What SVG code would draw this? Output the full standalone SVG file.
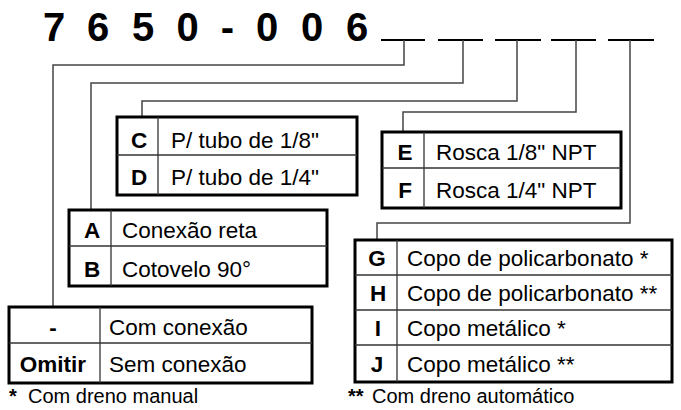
<svg xmlns="http://www.w3.org/2000/svg" width="681" height="410" viewBox="0 0 681 410">
<style>
.t{font-family:"Liberation Sans",Arial,sans-serif;font-size:22.5px;fill:#000}
.b{font-weight:bold}
.m{text-anchor:middle}
.f{font-family:"Liberation Sans",Arial,sans-serif;font-size:20px;fill:#000}
.box{fill:#fff;stroke:#000;stroke-width:3}
.in{stroke:#333;stroke-width:1.3;fill:none}
.con{stroke:#444;stroke-width:1.5;fill:none}
.ul{stroke:#000;stroke-width:2.2}
</style>
<rect width="681" height="410" fill="#fff"/>
<g id="title">
<text class="t b m" style="font-size:40px" y="41" x="54 76 98 120 143 165 187.5 207 227.5 247 267 290 312 335 357">7 6 5 0 - 0 0 6</text>
<line class="ul" x1="381" y1="40" x2="425" y2="40"/>
<line class="ul" x1="438" y1="40" x2="483" y2="40"/>
<line class="ul" x1="495" y1="40" x2="541" y2="40"/>
<line class="ul" x1="551" y1="40" x2="596" y2="40"/>
<line class="ul" x1="608" y1="40" x2="654" y2="40"/>
</g>
<g id="connectors">
<polyline class="con" points="404,40 404,65 53,65 53,307"/>
<polyline class="con" points="463,40 463,83 91,83 91,210"/>
<polyline class="con" points="517,40 517,101 142,101 142,117"/>
<polyline class="con" points="576,40 576,112 403,112 403,132"/>
<polyline class="con" points="630,40 630,223 377,223 377,240"/>
</g>
<g id="box-cd">
<rect class="box" x="117" y="117" width="240" height="78"/>
<line class="in" x1="158" y1="117" x2="158" y2="195"/>
<line class="in" x1="117" y1="155" x2="357" y2="155"/>
<text class="t b m" x="139" y="148">C</text>
<text class="t" x="171" y="148">P/ tubo de 1/8"</text>
<text class="t b m" x="139" y="185">D</text>
<text class="t" x="171" y="185">P/ tubo de 1/4"</text>
</g>
<g id="box-ef">
<rect class="box" x="382" y="132" width="239" height="76"/>
<line class="in" x1="424" y1="132" x2="424" y2="208"/>
<line class="in" x1="382" y1="168" x2="621" y2="168"/>
<text class="t b m" x="405" y="160">E</text>
<text class="t" x="436" y="160">Rosca 1/8" NPT</text>
<text class="t b m" x="405" y="198">F</text>
<text class="t" x="436" y="198">Rosca 1/4" NPT</text>
</g>
<g id="box-ab">
<rect class="box" x="69" y="210" width="258" height="76"/>
<line class="in" x1="111" y1="210" x2="111" y2="286"/>
<line class="in" x1="69" y1="246" x2="327" y2="246"/>
<text class="t b m" x="92" y="238">A</text>
<text class="t" x="122" y="238">Conexão reta</text>
<text class="t b m" x="92" y="277">B</text>
<text class="t" x="122" y="277">Cotovelo 90°</text>
</g>
<g id="box-omitir">
<rect class="box" x="9" y="307" width="303" height="76"/>
<line class="in" x1="100" y1="307" x2="100" y2="383"/>
<line class="in" x1="9" y1="343" x2="312" y2="343"/>
<text class="t b m" x="53" y="335">-</text>
<text class="t" x="109" y="335">Com conexão</text>
<text class="t b m" x="53" y="372">Omitir</text>
<text class="t" x="109" y="372">Sem conexão</text>
</g>
<g id="box-ghij">
<rect class="box" x="355" y="240" width="317" height="142"/>
<line class="in" x1="397" y1="240" x2="397" y2="382"/>
<line class="in" x1="355" y1="275" x2="672" y2="275"/>
<line class="in" x1="355" y1="310" x2="672" y2="310"/>
<line class="in" x1="355" y1="345" x2="672" y2="345"/>
<text class="t b m" x="377" y="266">G</text>
<text class="t" x="407" y="266">Copo de policarbonato *</text>
<text class="t b m" x="378" y="301">H</text>
<text class="t" x="407" y="301">Copo de policarbonato **</text>
<text class="t b m" x="378" y="336">I</text>
<text class="t" x="407" y="336">Copo metálico *</text>
<text class="t b m" x="377" y="372">J</text>
<text class="t" x="407" y="372">Copo metálico **</text>
</g>
<g id="footnotes">
<text class="f" x="9" y="403"><tspan class="b">*</tspan> <tspan x="28">Com dreno manual</tspan></text>
<text class="f" x="348" y="403"><tspan class="b">**</tspan> <tspan x="372">Com dreno automático</tspan></text>
</g>
</svg>
